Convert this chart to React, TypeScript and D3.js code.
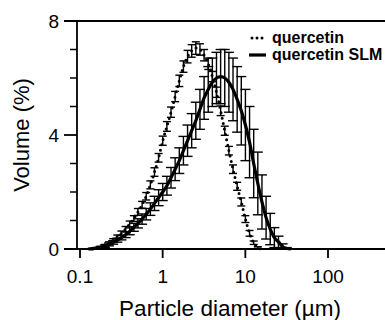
import React from "react";
import * as d3 from "d3";

const SIZES = [0.126, 0.142, 0.159, 0.178, 0.2, 0.224, 0.252, 0.283, 0.317, 0.356, 0.399, 0.448, 0.502, 0.564, 0.632, 0.71, 0.796, 0.893, 1.002, 1.125, 1.262, 1.416, 1.589, 1.783, 2.0, 2.244, 2.518, 2.825, 3.17, 3.557, 3.991, 4.477, 5.024, 5.637, 6.325, 7.096, 7.962, 8.934, 10.024, 11.247, 12.619, 14.159, 15.887, 17.825, 20.0, 22.44, 25.179, 28.251, 31.698, 35.566];

const QUERCETIN = [0, 0, 0.02, 0.06, 0.12, 0.2, 0.3, 0.42, 0.55, 0.7, 0.88, 1.07, 1.3, 1.55, 1.85, 2.25, 2.7, 3.2, 3.8, 4.3, 4.8, 5.35, 5.9, 6.4, 6.75, 6.95, 7.05, 7.0, 6.8, 6.5, 6.05, 5.5, 4.85, 4.15, 3.45, 2.8, 2.2, 1.65, 1.05, 0.55, 0.22, 0.05, 0, 0, 0, 0, 0, 0, 0, 0];
const QUERCETIN_SD = [0, 0, 0.02, 0.03, 0.04, 0.05, 0.06, 0.07, 0.08, 0.09, 0.1, 0.1, 0.12, 0.12, 0.13, 0.14, 0.15, 0.15, 0.16, 0.17, 0.18, 0.18, 0.2, 0.2, 0.22, 0.22, 0.22, 0.2, 0.2, 0.2, 0.18, 0.18, 0.17, 0.16, 0.15, 0.15, 0.14, 0.14, 0.12, 0.1, 0.06, 0.03, 0, 0, 0, 0, 0, 0, 0, 0];

const SLM = [0, 0.01, 0.03, 0.06, 0.1, 0.16, 0.23, 0.31, 0.4, 0.5, 0.62, 0.76, 0.9, 1.05, 1.22, 1.4, 1.6, 1.8, 2.0, 2.22, 2.5, 2.8, 3.1, 3.45, 3.8, 4.15, 4.5, 4.9, 5.3, 5.6, 5.85, 6.0, 6.05, 6.0, 5.85, 5.6, 5.25, 4.85, 4.35, 3.75, 3.0, 2.3, 1.65, 1.1, 0.7, 0.4, 0.25, 0.08, 0.02, 0];
const SLM_SD = [0, 0.01, 0.02, 0.03, 0.04, 0.05, 0.06, 0.07, 0.08, 0.1, 0.12, 0.14, 0.16, 0.18, 0.2, 0.22, 0.25, 0.28, 0.3, 0.33, 0.36, 0.4, 0.45, 0.5, 0.55, 0.6, 0.65, 0.7, 0.75, 0.8, 0.85, 0.9, 0.95, 1.0, 1.05, 1.1, 1.15, 1.2, 1.25, 1.25, 1.2, 1.1, 0.95, 0.75, 0.55, 0.35, 0.2, 0.1, 0.03, 0];

const X_TICKS = [0.1, 1, 10, 100];
const X_TICK_LABELS = ["0.1", "1", "10", "100"];
const Y_MAJOR = [0, 4, 8];
const Y_MINOR = [1, 2, 3, 5, 6, 7];
const LEGEND = ["quercetin", "quercetin SLM"];

const FONT = "'Liberation Sans', Arial, Helvetica, sans-serif";

export default function App() {
  const W = 385, H = 320;
  const x = d3.scaleLog().domain([0.1, 100]).range([80, 328]);
  const y = d3.scaleLinear().domain([0, 8]).range([249, 21]);
  const xAxisLeft = 64, yAxisX = 77, right = 385;

  const line = d3.line<[number, number]>().x(d => x(d[0])).y(d => y(d[1])).curve(d3.curveMonotoneX);
  const qPts: [number, number][] = SIZES.map((s, i) => [s, QUERCETIN[i]] as [number, number]).filter((p, i) => QUERCETIN[i] > 0 || (QUERCETIN[i + 1] ?? 0) > 0 || (QUERCETIN[i - 1] ?? 0) > 0);
  const sPts: [number, number][] = SIZES.map((s, i) => [s, SLM[i]] as [number, number]).filter((p, i) => SLM[i] > 0 || (SLM[i + 1] ?? 0) > 0 || (SLM[i - 1] ?? 0) > 0);

  const errBars = (vals: number[], sds: number[], cap: number, key: string) =>
    SIZES.map((s, i) => {
      if (vals[i] <= 0) return null;
      const cx = x(s);
      const y1 = y(vals[i] + sds[i]);
      const y2 = y(Math.max(0, vals[i] - sds[i]));
      return (
        <g key={key + i}>
          <line x1={cx} x2={cx} y1={y1} y2={y2} stroke="#000" strokeWidth={1.4} />
          <line x1={cx - cap} x2={cx + cap} y1={y1} y2={y1} stroke="#000" strokeWidth={1.4} />
          <line x1={cx - cap} x2={cx + cap} y1={y2} y2={y2} stroke="#000" strokeWidth={1.4} />
        </g>
      );
    });

  return (
    <svg width={W} height={H} style={{ position: "absolute", left: 0, top: 0 }} fontFamily={FONT}>
      <rect width={W} height={H} fill="#fff" />
      <line x1={xAxisLeft} x2={right} y1={y(8)} y2={y(8)} stroke="#000" strokeWidth={1.8} />
      <line x1={xAxisLeft} x2={right} y1={y(0)} y2={y(0)} stroke="#000" strokeWidth={1.8} />
      <line x1={yAxisX} x2={yAxisX} y1={y(8)} y2={y(0)} stroke="#000" strokeWidth={1.8} />
      {Y_MAJOR.map(v => (
        <g key={"ym" + v}>
          <line x1={xAxisLeft} x2={yAxisX} y1={y(v)} y2={y(v)} stroke="#000" strokeWidth={1.8} />
          <text x={59} y={y(v)} dy="0.36em" textAnchor="end" fontSize={19}>{v}</text>
        </g>
      ))}
      {Y_MINOR.map(v => (
        <line key={"yn" + v} x1={70} x2={yAxisX} y1={y(v)} y2={y(v)} stroke="#000" strokeWidth={1.5} />
      ))}
      {X_TICKS.map((t, i) => (
        <g key={"xt" + t}>
          <line x1={x(t)} x2={x(t)} y1={y(0)} y2={y(0) + 9} stroke="#000" strokeWidth={1.8} />
          <text x={x(t)} y={283} textAnchor="middle" fontSize={19}>{X_TICK_LABELS[i]}</text>
        </g>
      ))}
      <text x={230} y={316} textAnchor="middle" fontSize={22.5}>Particle diameter (µm)</text>
      <text transform={`translate(29,${135}) rotate(-90)`} textAnchor="middle" fontSize={22}>Volume (%)</text>

      {errBars(QUERCETIN, QUERCETIN_SD, 4, "q")}
      <path d={line(qPts) || ""} fill="none" stroke="#000" strokeWidth={3} strokeDasharray="0 5.5" strokeLinecap="round" />

      {errBars(SLM, SLM_SD, 5, "s")}
      <path d={line(sPts) || ""} fill="none" stroke="#000" strokeWidth={3.2} />

      <line x1={252} x2={266} y1={38} y2={38} stroke="#000" strokeWidth={3} strokeDasharray="0 5" strokeLinecap="round" />
      <text x={272} y={43} fontSize={16} fontWeight="bold">{LEGEND[0]}</text>
      <line x1={249} x2={266} y1={55} y2={55} stroke="#000" strokeWidth={3.2} />
      <text x={272} y={60} fontSize={16} fontWeight="bold">{LEGEND[1]}</text>
    </svg>
  );
}
